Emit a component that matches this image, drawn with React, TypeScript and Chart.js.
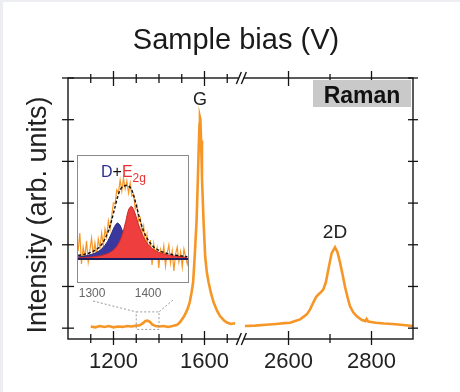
import React, { useEffect, useRef } from "react";
import { Chart, registerables } from "chart.js";

Chart.register(...registerables);

// ---------- main spectrum (Raman shift in cm^-1, intensity in arb. units) ----------
const leftShift = [
  1100, 1120, 1140, 1160, 1180, 1200, 1220, 1240, 1260, 1280,
  1300, 1315, 1330, 1340, 1350, 1360, 1370, 1385, 1400, 1420,
  1440, 1460, 1480, 1492, 1511, 1525, 1535, 1543, 1550, 1557,
  1565, 1571, 1575, 1578, 1580, 1582, 1585, 1589, 1596, 1603,
  1610, 1618, 1628, 1640, 1655, 1668, 1685, 1697, 1715, 1735,
];
const leftIntensity = [
  0.04, 0.02, 0.05, 0.03, 0.05, 0.02, 0.04, 0.03, 0.05, 0.04,
  0.06, 0.07, 0.12, 0.17, 0.18, 0.15, 0.09, 0.05, 0.04, 0.05,
  0.03, 0.05, 0.08, 0.14, 0.29, 0.45, 0.62, 0.85, 1.1, 1.72,
  2.55, 3.6, 4.4, 4.9, 5.05, 5.0, 4.5, 3.6, 2.55, 1.72,
  1.35, 1.1, 0.85, 0.62, 0.42, 0.29, 0.19, 0.14, 0.1, 0.12,
];
const rightShift = [
  2495, 2520, 2545, 2570, 2590, 2604, 2616, 2628, 2644, 2652,
  2660, 2666, 2672, 2678, 2684, 2690, 2696, 2704, 2712, 2718,
  2724, 2730, 2736, 2742, 2748, 2756, 2764, 2776, 2785, 2788,
  2792, 2810, 2830, 2850, 2870, 2900,
];
const rightIntensity = [
  0.05, 0.06, 0.08, 0.1, 0.12, 0.13, 0.17, 0.21, 0.33, 0.45,
  0.62, 0.74, 0.81, 0.86, 0.93, 1.1, 1.41, 1.8, 1.94, 1.82,
  1.58, 1.3, 1.0, 0.75, 0.53, 0.38, 0.29, 0.2, 0.17, 0.22,
  0.16, 0.13, 0.11, 0.1, 0.08, 0.05,
];

const majorTicks = [1200, 1600, 2600, 2800];
const minorTicks = [1100, 1300, 1400, 1500, 1700, 2700];
const yTicks = [0, 1, 2, 3, 4, 5, 6];

const titleText = "Sample bias (V)";
const yTitleText = "Intensity (arb. units)";
const gLabel = "G";
const twoDLabel = "2D";
const ramanLabel = "Raman";

// ---------- inset: D + E2g region ----------
const insetShift = [
  1275, 1278, 1281, 1284, 1287, 1290, 1293, 1296, 1299, 1302,
  1305, 1308, 1311, 1314, 1317, 1320, 1323, 1326, 1329, 1332,
  1335, 1338, 1341, 1344, 1347, 1350, 1353, 1356, 1359, 1362,
  1365, 1368, 1371, 1374, 1377, 1380, 1383, 1386, 1389, 1392,
  1395, 1398, 1401, 1404, 1407, 1410, 1413, 1416, 1419, 1422,
  1425, 1428, 1431, 1434, 1437, 1440, 1443, 1446, 1449, 1452,
  1455, 1458, 1461, 1464, 1467, 1470, 1473,
];
const insetIntensity = [
  0.8, 2.6, -0.5, 1.2, 0.2, 1.8, -0.3, 0.9, 2.1, 0.4,
  1.6, 0.3, 2.0, 1.1, 2.6, 1.3, 3.0, 2.2, 3.8, 2.9,
  4.3, 5.6, 5.5, 6.9, 6.6, 7.9, 6.8, 8.1, 7.0, 7.8,
  6.6, 7.6, 6.3, 6.5, 5.0, 5.4, 3.8, 4.1, 2.6, 3.3,
  1.2, 2.4, 0.2, 1.9, -0.6, 1.5, 0.3, 1.1, -0.9, 0.9,
  0.1, 1.3, -0.7, 0.6, 1.4, -0.4, 0.8, -1.2, 0.5, 1.2,
  -0.3, 0.7, -0.8, 1.0, 0.2, -0.5, 0.4,
];
const fitShift = [
  1275, 1280, 1285, 1290, 1295, 1300, 1305, 1310, 1315, 1320,
  1325, 1330, 1335, 1340, 1345, 1350, 1355, 1360, 1365, 1370,
  1375, 1380, 1385, 1390, 1395, 1400, 1405, 1410, 1415, 1420,
  1425, 1430, 1435, 1440, 1445, 1450, 1455, 1460, 1465, 1470,
];
const dBand = [
  0.22, 0.25, 0.29, 0.34, 0.4, 0.48, 0.58, 0.72, 0.91, 1.17,
  1.53, 2.01, 2.62, 3.24, 3.59, 3.36, 2.65, 1.92, 1.38, 1.01,
  0.76, 0.59, 0.47, 0.38, 0.31, 0.26, 0.22, 0.19, 0.17, 0.15,
  0.13, 0.11, 0.1, 0.09, 0.08, 0.08, 0.07, 0.06, 0.06, 0.05,
];
const e2gBand = [
  0.12, 0.13, 0.14, 0.16, 0.18, 0.21, 0.24, 0.28, 0.33, 0.4,
  0.49, 0.6, 0.77, 1.0, 1.35, 1.87, 2.65, 3.75, 4.9, 5.27,
  4.82, 3.97, 3.1, 2.39, 1.85, 1.45, 1.16, 0.94, 0.77, 0.65,
  0.55, 0.47, 0.41, 0.35, 0.31, 0.28, 0.25, 0.22, 0.2, 0.18,
];
const fitSum = [
  0.36, 0.4, 0.45, 0.52, 0.6, 0.72, 0.86, 1.05, 1.32, 1.7,
  2.25, 2.95, 3.9, 5.0, 6.1, 6.9, 7.25, 7.35, 7.3, 7.0,
  6.2, 5.1, 4.0, 3.1, 2.4, 1.9, 1.5, 1.2, 1.0, 0.84,
  0.72, 0.62, 0.54, 0.47, 0.41, 0.37, 0.33, 0.3, 0.27, 0.24,
];
const baselineShift = [1273, 1473];
const baselineIntensity = [0, 0];
const insetTicks = [1300, 1400];

// ---------- broken-axis mapping ----------
const SEG2_START = 2500;
const SEG2_AT = 1787;
const SEG2_STRETCH = 1.824;
const toAxis = (w: number) => (w < 2100 ? w : SEG2_AT + (w - SEG2_START) * SEG2_STRETCH);

const ORANGE = "rgb(246,150,38)";
const FONT = '"Liberation Sans", Arial, Helvetica, sans-serif';

const pts = (xs: number[], ys: number[], map = (v: number) => v) =>
  xs.map((w, i) => ({ x: map(w), y: ys[i] }));

const line = (ctx: CanvasRenderingContext2D, x1: number, y1: number, x2: number, y2: number) => {
  ctx.beginPath();
  ctx.moveTo(x1, y1);
  ctx.lineTo(x2, y2);
  ctx.stroke();
};

const mainDecor = {
  id: "mainDecor",
  beforeDraw(chart: any) {
    const c = chart.ctx;
    c.save();
    c.fillStyle = "#ffffff";
    c.fillRect(0, 0, chart.width, chart.height);
    c.fillStyle = "#eceef1";
    c.fillRect(0, 0, chart.width, 2);
    c.fillRect(0, 0, 3, chart.height);
    c.restore();
  },
  afterDraw(chart: any) {
    const c: CanvasRenderingContext2D = chart.ctx;
    const a = chart.chartArea;
    const x = chart.scales.x;
    const y = chart.scales.y;
    c.save();
    // frame
    c.strokeStyle = "#151515";
    c.lineWidth = 1.4;
    c.strokeRect(a.left, a.top, a.right - a.left, a.bottom - a.top);
    // x ticks (crossing)
    c.lineWidth = 1.3;
    majorTicks.forEach((w) => {
      const px = x.getPixelForValue(toAxis(w));
      line(c, px, a.bottom - 8, px, a.bottom + 6);
      line(c, px, a.top - 7, px, a.top + 8);
    });
    minorTicks.forEach((w) => {
      const px = x.getPixelForValue(toAxis(w));
      line(c, px, a.bottom - 5, px, a.bottom + 4);
      line(c, px, a.top - 4, px, a.top + 5);
    });
    // y ticks
    yTicks.forEach((v) => {
      const py = y.getPixelForValue(v);
      line(c, a.left - 6, py, a.left + 6, py);
      line(c, a.right - 5, py, a.right + 5, py);
    });
    // axis break marks
    const gx = x.getPixelForValue(1762);
    [a.top, a.bottom].forEach((yy: number) => {
      c.fillStyle = "#ffffff";
      c.fillRect(gx - 2.5, yy - 2, 5, 4);
      c.lineWidth = 1.4;
      [gx - 2.5, gx + 2.5].forEach((s) => line(c, s - 2.5, yy + 6, s + 2.5, yy - 6));
    });
    // zoom-region marker and connectors
    c.strokeStyle = "#9a9a9a";
    c.lineWidth = 1;
    c.setLineDash([2, 2]);
    const rx1 = x.getPixelForValue(toAxis(1300));
    const rx2 = x.getPixelForValue(toAxis(1400));
    const ry1 = y.getPixelForValue(0.39);
    const ry2 = y.getPixelForValue(-0.03);
    c.strokeRect(rx1, ry1, rx2 - rx1, ry2 - ry1);
    line(c, 93, 301, rx1, ry1);
    line(c, 173, 300, rx2, ry1);
    c.setLineDash([]);
    // labels
    c.fillStyle = "#1a1a1a";
    c.textAlign = "center";
    c.textBaseline = "alphabetic";
    c.font = `29px ${FONT}`;
    c.fillText(titleText, 236, 49);
    c.font = `22px ${FONT}`;
    c.fillStyle = "#222";
    majorTicks.forEach((w) => c.fillText(String(w), x.getPixelForValue(toAxis(w)), 368));
    c.save();
    c.translate(46, 215);
    c.rotate(-Math.PI / 2);
    c.font = `27px ${FONT}`;
    c.fillText(yTitleText, 0, 0);
    c.restore();
    c.font = `18px ${FONT}`;
    c.fillText(gLabel, x.getPixelForValue(toAxis(1580)), 105);
    c.font = `19px ${FONT}`;
    c.fillText(twoDLabel, x.getPixelForValue(toAxis(2712)), 238);
    // Raman tag
    c.fillStyle = "#c9c9c9";
    c.fillRect(313, 80, 98, 27);
    c.fillStyle = "#111";
    c.font = `bold 23px ${FONT}`;
    c.fillText(ramanLabel, 362, 103);
    c.restore();
  },
};

const insetDecor = {
  id: "insetDecor",
  beforeDatasetsDraw(chart: any) {
    const c = chart.ctx;
    const a = chart.chartArea;
    c.save();
    c.fillStyle = "#ffffff";
    c.fillRect(a.left, a.top, a.right - a.left, a.bottom - a.top);
    c.restore();
  },
  afterDraw(chart: any) {
    const c: CanvasRenderingContext2D = chart.ctx;
    const a = chart.chartArea;
    const x = chart.scales.x;
    c.save();
    c.strokeStyle = "#8a8a8a";
    c.lineWidth = 1;
    c.strokeRect(a.left + 0.5, a.top + 0.5, a.right - a.left - 1, a.bottom - a.top - 1);
    c.textAlign = "center";
    c.textBaseline = "alphabetic";
    c.font = `12px "Liberation Sans Narrow", ${FONT}`;
    c.fillStyle = "#666";
    insetTicks.forEach((w) => c.fillText(String(w), x.getPixelForValue(w), a.bottom + 14));
    // D+E2g label
    c.textAlign = "left";
    let px = 24;
    const base = 22;
    c.font = `16px ${FONT}`;
    c.fillStyle = "#2c2f8f";
    c.fillText("D", px, base);
    px += c.measureText("D").width;
    c.fillStyle = "#111";
    c.fillText("+", px, base);
    px += c.measureText("+").width;
    c.fillStyle = "#e8302f";
    c.fillText("E", px, base);
    px += c.measureText("E").width;
    c.font = `12px ${FONT}`;
    c.fillText("2g", px, base + 5);
    c.restore();
  },
};

export default function App() {
  const mainRef = useRef<HTMLCanvasElement>(null);
  const insetRef = useRef<HTMLCanvasElement>(null);

  useEffect(() => {
    if (!mainRef.current || !insetRef.current) return;
    const main = new Chart(mainRef.current, {
      type: "line",
      data: {
        datasets: [
          {
            label: "Raman (low shift)",
            data: pts(leftShift, leftIntensity, toAxis),
            borderColor: ORANGE,
            borderWidth: 2.6,
            pointRadius: 0,
            fill: false,
          },
          {
            label: "Raman (high shift)",
            data: pts(rightShift, rightIntensity, toAxis),
            borderColor: ORANGE,
            borderWidth: 2.6,
            pointRadius: 0,
            fill: false,
          },
        ],
      },
      options: {
        responsive: false,
        animation: false,
        devicePixelRatio: 1,
        parsing: false,
        layout: { padding: { left: 68, top: 78, right: 47, bottom: 53 } },
        plugins: { legend: { display: false }, tooltip: { enabled: false }, title: { display: false } },
        scales: {
          x: { type: "linear", min: 1000, max: toAxis(2900), display: false },
          y: { type: "linear", min: -0.26, max: 6, display: false },
        },
      },
      plugins: [mainDecor],
    } as any);

    const inset = new Chart(insetRef.current, {
      type: "line",
      data: {
        datasets: [
          {
            label: "baseline",
            data: pts(baselineShift, baselineIntensity),
            borderColor: "#1c1d5c",
            borderWidth: 2,
            pointRadius: 0,
            order: 1,
          },
          {
            label: "fit",
            data: pts(fitShift, fitSum),
            borderColor: "#111",
            borderWidth: 1.4,
            borderDash: [3, 2],
            pointRadius: 0,
            tension: 0.3,
            order: 2,
          },
          {
            label: "E2g",
            data: pts(fitShift, e2gBand),
            borderColor: "#c62a2a",
            backgroundColor: "rgb(238,62,62)",
            borderWidth: 1,
            pointRadius: 0,
            tension: 0.3,
            fill: "origin",
            order: 3,
          },
          {
            label: "D",
            data: pts(fitShift, dBand),
            borderColor: "#2a2a80",
            backgroundColor: "rgb(58,56,158)",
            borderWidth: 1,
            pointRadius: 0,
            tension: 0.3,
            fill: "origin",
            order: 4,
          },
          {
            label: "data",
            data: pts(insetShift, insetIntensity),
            borderColor: ORANGE,
            borderWidth: 1.2,
            pointRadius: 0,
            order: 5,
          },
        ],
      },
      options: {
        responsive: false,
        animation: false,
        devicePixelRatio: 1,
        parsing: false,
        layout: { padding: { left: 0, top: 0, right: 1, bottom: 32 } },
        plugins: { legend: { display: false }, tooltip: { enabled: false } },
        scales: {
          x: { type: "linear", min: 1273, max: 1473, display: false },
          y: { type: "linear", min: -2.4, max: 10.4, display: false },
        },
      },
      plugins: [insetDecor],
    } as any);

    return () => {
      main.destroy();
      inset.destroy();
    };
  }, []);

  return (
    <div style={{ position: "absolute", left: 0, top: 0, width: 460, height: 392, background: "#fff" }}>
      <canvas
        ref={mainRef}
        width={460}
        height={392}
        style={{ position: "absolute", left: 0, top: 0, width: 460, height: 392, display: "block" }}
      />
      <canvas
        ref={insetRef}
        width={113}
        height={160}
        style={{ position: "absolute", left: 77, top: 155, width: 113, height: 160, display: "block" }}
      />
    </div>
  );
}
